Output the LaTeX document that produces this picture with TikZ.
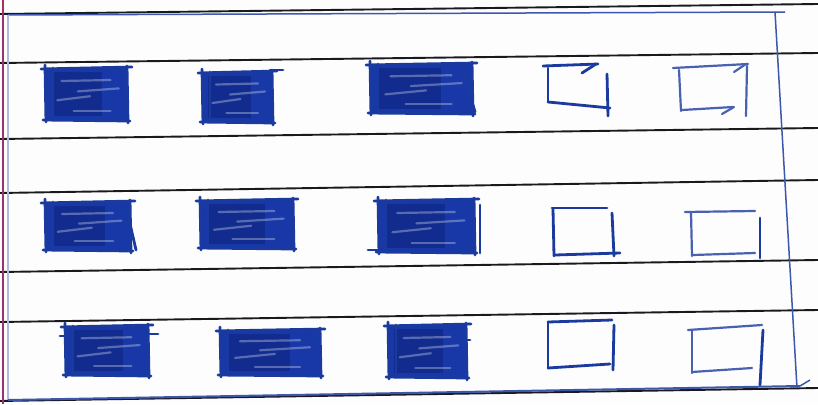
\documentclass[tikz,border=0pt]{standalone}
\definecolor{paper}{HTML}{FDFDFD}
\definecolor{ruling}{HTML}{1A1A1E}
\definecolor{ink}{HTML}{1A3A9E}
\definecolor{inkfill}{HTML}{1838A8}
\definecolor{inkdark}{HTML}{0A1F70}
\definecolor{margin}{HTML}{A0306A}
\tikzset{
  rule/.style={draw=ruling,line width=1.9pt},
  border/.style={draw=ink!85,line width=1.5pt},
  pen/.style={draw=ink,line width=2.8pt,line cap=round},
  penlight/.style={draw=ink!80,line width=2.2pt,line cap=round},
  streak/.style={draw=white,opacity=0.3,line width=2.2pt,line cap=round},
}
\newcommand\inkblock[4]{%
  \fill[inkfill] (#1,#2) rectangle (#3,#4);
  \fill[inkdark,opacity=0.45] ({#1+0.08*(#3-#1)},{#2+0.08*(#4-#2)}) rectangle ({#1+0.7*(#3-#1)},{#2+0.92*(#4-#2)});
  \foreach \f/\s/\e/\d in {0.25/0.2/0.8/-1, 0.45/0.4/0.9/-3, 0.62/0.15/0.55/-4, 0.82/0.35/0.8/0}{%
    \draw[streak] ({#1+\s*(#3-#1)},{#2+\f*(#4-#2)}) -- ({#1+\e*(#3-#1)},{#2+\f*(#4-#2)+\d});
  }
  \draw[pen] (#1-4,#2+1) -- (#3+5,#2-1);
  \draw[pen] (#1,#2-3) -- (#1+1,#4+2);
  \draw[pen] (#1+8,#2) -- (#1+8,#4);
  \draw[pen] (#3,#2-2) -- (#3+1,#4+3);
  \draw[pen] (#1-2,#4) -- (#3+3,#4+1);
}
\begin{document}
\begin{tikzpicture}[x=1pt,y=-1pt]
\useasboundingbox (0,0) rectangle (818,404);
\fill[paper] (0,0) rectangle (818,404);
% notebook rulings
\coordinate (l1a) at (0,14);  \coordinate (l1b) at (818,4);
\coordinate (l2a) at (0,63);  \coordinate (l2b) at (818,53);
\coordinate (l3a) at (0,139); \coordinate (l3b) at (818,128);
\coordinate (l4a) at (0,193); \coordinate (l4b) at (818,180);
\coordinate (l5a) at (0,272); \coordinate (l5b) at (818,260);
\coordinate (l6a) at (0,322); \coordinate (l6b) at (818,310);
\coordinate (l7a) at (0,401); \coordinate (l7b) at (818,388);
\foreach \i in {1,...,7}{\draw[rule] (l\i a) -- (l\i b);}
% margin
\coordinate (ma) at (3,0); \coordinate (mb) at (3,404);
\draw[margin,line width=1.5pt] (ma) -- (mb);
% blue frame
\coordinate (f1) at (8,15); \coordinate (f2) at (785,12);
\coordinate (f3) at (775,12); \coordinate (f4) at (797,388);
\coordinate (f5) at (8,400); \coordinate (f6) at (800,386);
\draw[border] (f1) -- (f2);
\draw[border] (f3) -- (f4);
\draw[border,draw=ink!35] (f1) -- (f5);
\draw[border,line width=2pt] (f5) -- (f6);
\draw[border] (f6) -- ++(10,-6);
% row 1 filled
\inkblock{45}{68}{127}{120}
\inkblock{202}{72}{272}{122}
\draw[pen] (270,70) -- (283,70);
\inkblock{370}{64}{472}{113}
\draw[pen] (462,66) -- (475,112);
% row 2 filled
\inkblock{45}{202}{130}{250}
\draw[pen] (128,215) -- (136,250);
\inkblock{200}{200}{293}{248}
\inkblock{378}{200}{474}{252}
\draw[pen] (480,205) -- (480,253);
\draw[pen] (368,250) -- (378,250);
% row 3 filled
\inkblock{65}{326}{148}{375}
\draw[pen] (60,336) -- (70,336);
\draw[pen] (148,334) -- (158,334);
\inkblock{220}{330}{320}{375}
\inkblock{388}{325}{466}{377}
\draw[pen] (462,340) -- (470,340);
% row 1 outlines
\draw[pen] (543,66) -- (598,64);
\draw[pen] (582,73) -- (596,64);
\draw[pen] (548,68) -- (548,102);
\draw[pen] (607,74) -- (608,116);
\draw[pen] (548,102) -- (610,108);
\draw[penlight] (673,68) -- (748,64);
\draw[penlight] (734,72) -- (746,64);
\draw[penlight] (679,70) -- (681,111);
\draw[penlight] (747,66) -- (746,116);
\draw[penlight] (682,110) -- (733,107);
\draw[penlight] (722,114) -- (734,107);
% row 2 outlines
\draw[pen] (552,208) -- (607,208);
\draw[pen] (553,209) -- (554,256);
\draw[pen] (612,213) -- (614,256);
\draw[pen] (555,255) -- (620,253);
\draw[penlight] (685,212) -- (755,211);
\draw[penlight] (691,213) -- (692,256);
\draw[pen] (760,218) -- (760,258);
\draw[penlight] (693,255) -- (755,253);
% row 3 outlines
\draw[pen] (548,322) -- (612,320);
\draw[pen] (548,322) -- (548,368);
\draw[pen] (614,325) -- (613,370);
\draw[pen] (548,368) -- (610,364);
\draw[penlight] (688,330) -- (762,325);
\draw[penlight] (692,330) -- (692,373);
\draw[pen] (763,330) -- (760,385);
\draw[penlight] (692,372) -- (752,368);
\end{tikzpicture}
\end{document}
